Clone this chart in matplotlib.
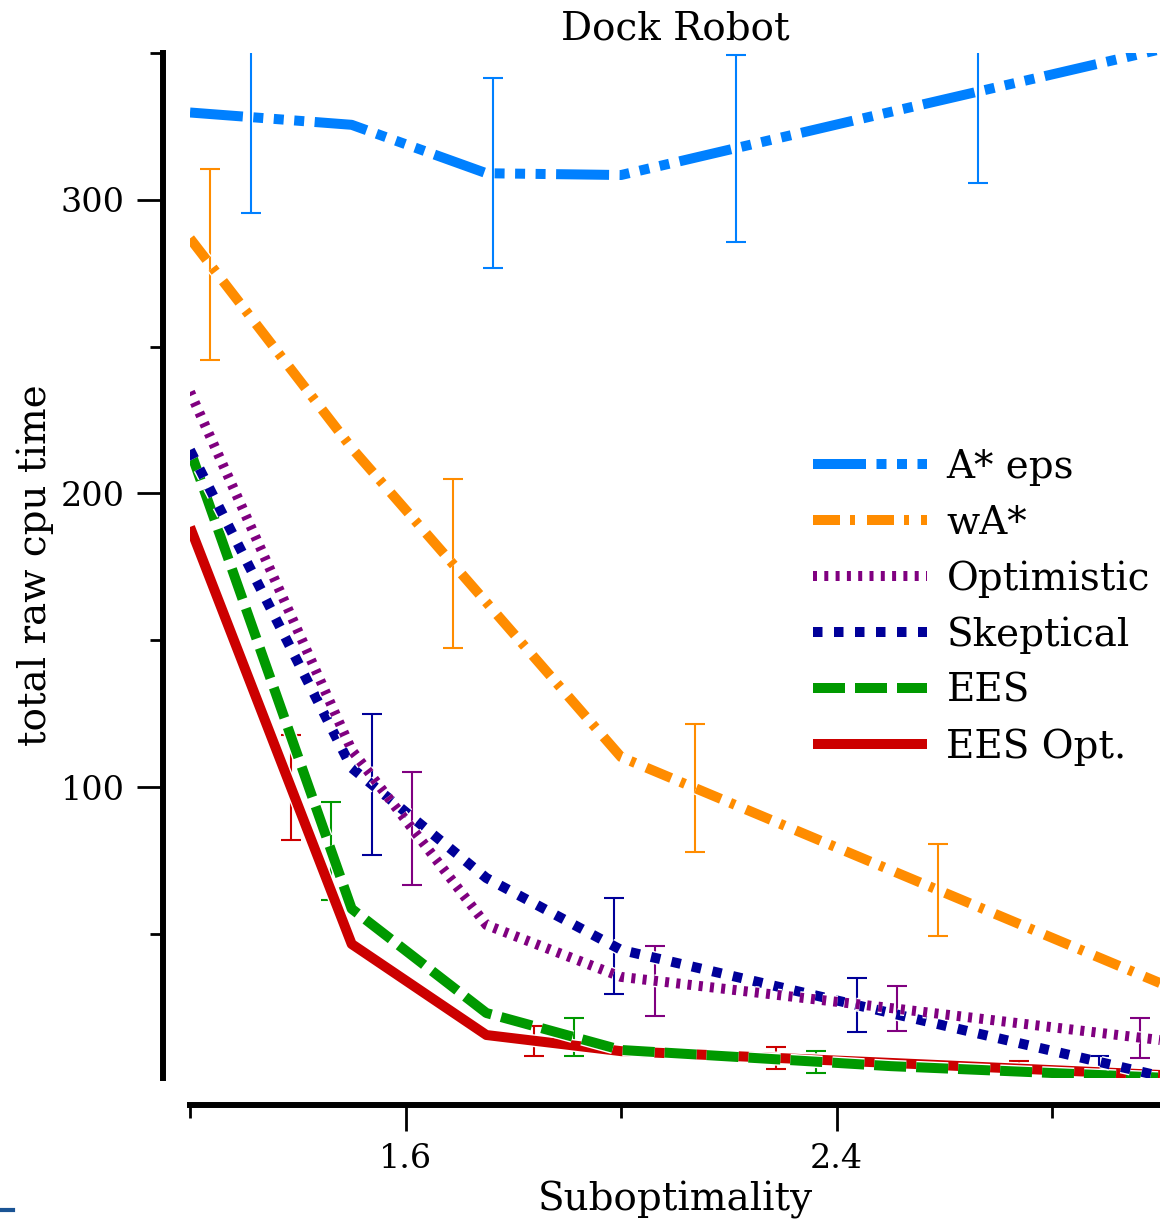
import matplotlib

matplotlib.use("Agg")
import matplotlib.pyplot as plt
import matplotlib.patheffects as pe
from matplotlib.lines import Line2D
import numpy as np

plt.rcParams["font.family"] = "DejaVu Serif"

# suboptimality bound (weight) used for every run
weights = [1.2, 1.5, 1.75, 2.0, 2.5, 3.0]

# mean total raw cpu time per algorithm
astar_eps = [329.8, 325.6, 309.1, 308.5, 330.0, 351.3]
wastar = [286.9, 215.5, 162.9, 110.2, 71.7, 33.2]
optimistic = [234.6, 112.6, 53.0, 35.3, 24.7, 13.8]
skeptical = [214.8, 106.5, 69.0, 44.5, 23.0, 1.5]
ees = [214.8, 58.5, 23.0, 10.4, 4.9, 1.0]
ees_opt = [188.6, 46.5, 15.5, 10.0, 6.0, 1.9]

# confidence half-widths, one per staggered error-bar spot
astar_eps_err = [32.7, 32.4, 31.9, 31.0]
wastar_err = [32.5, 28.8, 21.9, 15.7]
optimistic_err = [19.2, 11.9, 7.7, 6.8]
skeptical_err = [23.9, 16.4, 9.3, 2.0]
ees_err = [16.7, 6.5, 3.8, 2.5]
ees_opt_err = [17.9, 5.1, 3.7, 2.5]

LW = 7.2
XMIN, XMAX = 1.2, 3.0

# label, values, errors, colour, dash pattern (None = solid), error-bar slot
series = [
    ("A* eps", astar_eps, astar_eps_err, "#0080ff", (5.3, 1.05, 1.0, 1.05, 1.0, 1.05, 1.0, 1.05), 1),
    ("wA*", wastar, wastar_err, "#ff8c00", (2.7, 1.0, 0.5, 1.2), 0),
    ("Optimistic", optimistic, optimistic_err, "#800080", (0.4, 0.73), 5),
    ("Skeptical", skeptical, skeptical_err, "#000099", (0.95, 1.15), 4),
    ("EES", ees, ees_err, "#009900", (3.2, 1.0), 3),
    ("EES Opt.", ees_opt, ees_opt_err, "#cc0000", None, 2),
]

fig = plt.figure(figsize=(11.6, 12.23), dpi=100)
ax = fig.add_axes([0.1638, 0.1189, 0.8362, 0.8376])

# error bars are spread over the range so they don't pile on top of each other
group = (XMAX - XMIN) / 4
slot = group / 6
for label, vals, err, color, dashes, k in series:
    bx = XMIN + slot / 2 + slot * k + group * np.arange(4)
    by = np.interp(bx, weights, vals)
    ax.errorbar(bx, by, yerr=err, fmt="none", ecolor=color, elinewidth=1.5,
                capsize=7.5, capthick=1.5, zorder=1)

outline = [pe.Stroke(linewidth=LW + 2.0, foreground="white"), pe.Normal()]
handles = {}
for z, (label, vals, err, color, dashes, k) in enumerate(reversed(series)):
    kw = {"dashes": dashes} if dashes else {"linestyle": "-"}
    (ln,) = ax.plot(weights, vals, color=color, lw=LW, label=label,
                    solid_capstyle="butt", zorder=2 + z, path_effects=outline, **kw)
    handles[label] = ln

ax.set_xlim(XMIN, XMAX)
ax.set_ylim(1, 350)

for side in ("top", "right"):
    ax.spines[side].set_visible(False)
for side in ("left", "bottom"):
    ax.spines[side].set_position(("outward", 19.4))
    ax.spines[side].set_linewidth(4.3)

ax.set_xticks([1.6, 2.4])
ax.set_xticks([1.2, 2.0, 2.8], minor=True)
ax.set_yticks([100, 200, 300])
ax.set_yticks([50, 150, 250, 350], minor=True)
ax.tick_params(which="major", length=18.7, width=2, labelsize=24, pad=9)
ax.tick_params(which="minor", length=9.4, width=2)

ax.set_xlabel("Suboptimality", fontsize=28)
ax.xaxis.set_label_coords(0.5, -0.101)
ax.set_ylabel("total raw cpu time", fontsize=28)
ax.yaxis.set_label_coords(-0.140, 0.5)
fig.text(675 / 1160, 1 - 40 / 1223, "Dock Robot", ha="center", va="baseline", fontsize=28)

ax.legend([handles[s[0]] for s in series], [s[0] for s in series],
          loc="upper left", bbox_to_anchor=(813 / 1160, 1 - 449 / 1223),
          bbox_transform=fig.transFigure, frameon=False, fontsize=28,
          handlelength=2.93, handletextpad=0.5, labelspacing=0.48, borderpad=0,
          borderaxespad=0)

fig.add_artist(Line2D([0, 13 / 1160], [1 - 1210 / 1223] * 2, color="#1a5494", lw=3))

fig.savefig("out.png", dpi=100)
